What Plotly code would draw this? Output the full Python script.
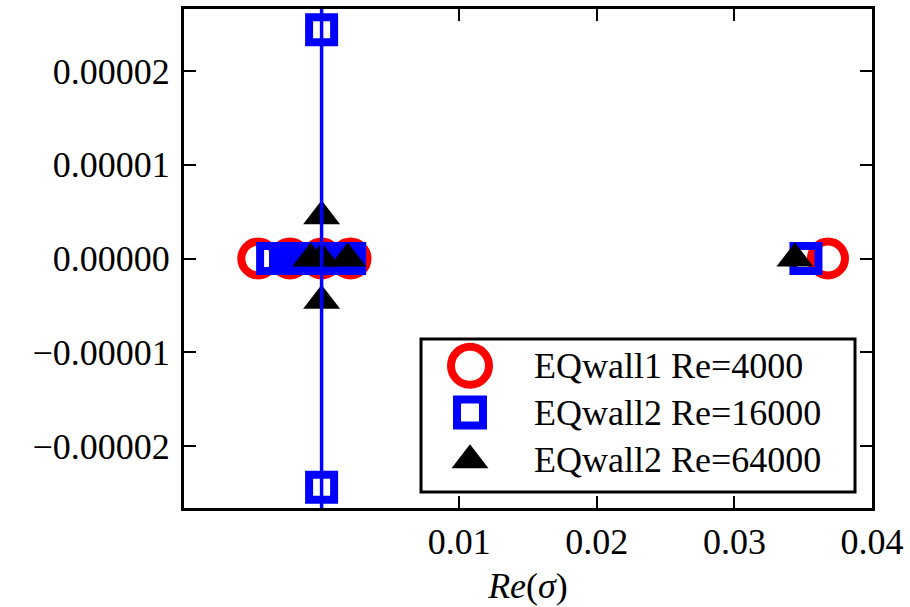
import plotly.graph_objects as go

# Eigenvalues sigma: real part on x, imaginary part on y
eq1_re4000_x = [-0.0046, -0.0023, 0.0, 0.0021, 0.0368]
eq1_re4000_y = [0.0, 0.0, 0.0, 0.0, 0.0]

eq2_re16000_x = [-0.00356, -0.00262, -0.00207, -0.00156, -0.00105, -0.00055, 0.0,
                 0.00055, 0.00105, 0.00156, 0.00204, 0.0, 0.0, 0.0352]
eq2_re16000_y = [0.0, 0.0, 0.0, 0.0, 0.0, 0.0, 0.0,
                 0.0, 0.0, 0.0, 0.0, 2.44e-5, -2.44e-5, 0.0]

eq2_re64000_x = [-0.0008, 0.0, 0.0, 0.0, 0.0019, 0.0344]
eq2_re64000_y = [0.0, 0.45e-5, 0.0, -0.45e-5, 0.0, 0.0]

series_names = ["EQwall1 Re=4000", "EQwall2 Re=16000", "EQwall2 Re=64000"]

x_tickvals = [0.01, 0.02, 0.03, 0.04]
x_ticktext = ["0.01", "0.02", "0.03", "0.04"]
y_tickvals = [-2e-5, -1e-5, 0.0, 1e-5, 2e-5]
y_ticktext = ["\u22120.00002", "\u22120.00001", "0.00000", "0.00001", "0.00002"]

x_range = [-0.01, 0.04]
y_range = [-2.66e-5, 2.66e-5]

FONT = "Liberation Serif"
FS = 36

styles = [
    dict(symbol="circle-open", size=34, color="#ff0000", line=dict(width=8, color="#ff0000")),
    dict(symbol="square-open", size=25, color="#0000ff", line=dict(width=8, color="#0000ff")),
    dict(symbol="triangle-up", size=32, color="#000000", line=dict(width=0)),
]

fig = go.Figure()
for xs, ys, st, nm in zip(
    [eq1_re4000_x, eq2_re16000_x, eq2_re64000_x],
    [eq1_re4000_y, eq2_re16000_y, eq2_re64000_y],
    styles, series_names,
):
    fig.add_trace(go.Scatter(x=xs, y=ys, mode="markers", name=nm, marker=st,
                             showlegend=False, cliponaxis=False))

# vertical reference line at Re(sigma) = 0
fig.add_trace(go.Scatter(x=[0.0, 0.0], y=y_range, mode="lines",
                         line=dict(color="#0000ff", width=3.5),
                         showlegend=False, hoverinfo="skip"))

# legend drawn on an overlay axis so the samples keep the marker sizes
legend_box = dict(x0=0.3445, x1=0.9753, y0=0.0319, y1=0.3386)
legend_marker_x = 0.4157
legend_text_x = 0.5058
legend_rows = [0.2849, 0.1912, 0.0956]
legend_styles = [
    dict(symbol="circle-open", size=38, color="#ff0000", line=dict(width=8, color="#ff0000")),
    dict(symbol="square-open", size=26, color="#0000ff", line=dict(width=8, color="#0000ff")),
    dict(symbol="triangle-up", size=32, color="#000000", line=dict(width=0)),
]
for ry, st in zip(legend_rows, legend_styles):
    fig.add_trace(go.Scatter(x=[legend_marker_x], y=[ry], mode="markers", marker=st,
                             xaxis="x2", yaxis="y2", showlegend=False, hoverinfo="skip",
                             cliponaxis=False))

fig.add_shape(type="rect", xref="paper", yref="paper", layer="below",
              fillcolor="white", line=dict(color="black", width=3), **legend_box)
for ry, nm in zip(legend_rows, series_names):
    fig.add_annotation(x=legend_text_x, y=ry, xref="paper", yref="paper", text=nm,
                       showarrow=False, xanchor="left", yanchor="middle",
                       font=dict(family=FONT, size=FS, color="black"))

axis_common = dict(
    showgrid=False, zeroline=False, showline=True, linewidth=3, linecolor="black",
    mirror="allticks", ticks="inside", ticklen=12, tickwidth=1.5, tickcolor="black",
    tickfont=dict(family=FONT, size=FS, color="black"),
)

fig.update_layout(
    width=910, height=607,
    margin=dict(l=184, r=38, t=6, b=99),
    paper_bgcolor="white", plot_bgcolor="white",
    showlegend=False,
    xaxis=dict(range=x_range, tickvals=x_tickvals, ticktext=x_ticktext,
               title=dict(text="<i>Re</i>(<i>\u03c3</i>)", font=dict(family=FONT, size=FS, color="black"),
                          standoff=12),
               **axis_common),
    yaxis=dict(range=y_range, tickvals=y_tickvals, ticktext=y_ticktext,
               ticklabelstandoff=4, **axis_common),
    xaxis2=dict(range=[0, 1], overlaying="x", anchor="y2", visible=False),
    yaxis2=dict(range=[0, 1], overlaying="y", anchor="x2", visible=False),
)

fig.write_html("out.html")
